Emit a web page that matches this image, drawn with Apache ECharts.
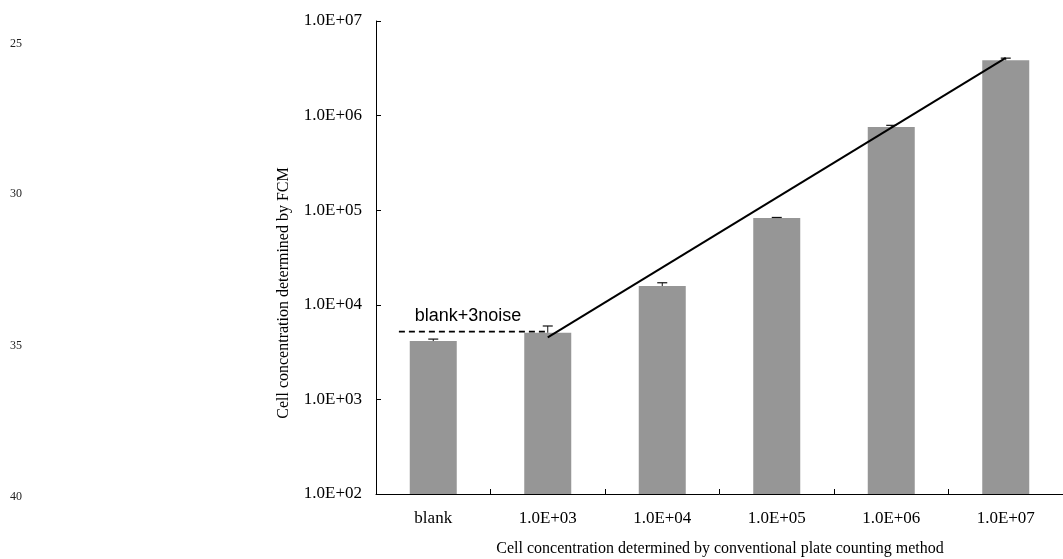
<!DOCTYPE html>
<html>
<head>
<meta charset="utf-8">
<script src="https://cdn.jsdelivr.net/npm/echarts@6/dist/echarts.min.js"></script>
<style>
  html, body { margin: 0; padding: 0; background: #ffffff; }
  #chart { width: 1063px; height: 559px; }
</style>
</head>
<body>
<div id="chart"></div>
<script>
// Plate-count categories on the x axis
const categories = ['blank', '1.0E+03', '1.0E+04', '1.0E+05', '1.0E+06', '1.0E+07'];
// FCM-measured concentrations (bar heights) and their upper error
const fcmValues = [4140, 5070, 15800, 82800, 759000, 3850000];
const fcmErrors = [200, 900, 1300, 1000, 30000, 200000];
// Decade tick labels on the log axis, 1e2 .. 1e7
const yTickLabels = ['1.0E+02', '1.0E+03', '1.0E+04', '1.0E+05', '1.0E+06', '1.0E+07'];
// Detection limit (blank + 3 noise) drawn as a dashed level
const noiseLevel = 5200;
const noiseSpan = [0.2, 1.5];           // along the category band scale (0..6)
// Linear fit endpoints, at the 1.0E+03 and 1.0E+07 band centres
const fitPoints = [[1.5, 4530], [5.5, 4070000]];
// Line numbers printed in the left margin
const marginNumbers = ['25', '30', '35', '40'];
const marginNumberY = [44, 194, 346, 497];

const serif = '"Liberation Serif", "Times New Roman", serif';
const sans = '"Liberation Sans", Arial, sans-serif';

const chart = echarts.init(document.getElementById('chart'), null, { renderer: 'canvas' });

const errorData = fcmValues.map((v, i) => [i, v, fcmErrors[i]]);

const graphics = marginNumbers.map((t, i) => ({
  type: 'text',
  x: 10,
  y: marginNumberY[i],
  style: { text: t, font: '12px ' + serif, fill: '#222', verticalAlign: 'middle' }
}));
graphics.push({
  type: 'text',
  x: 284, y: 293,
  rotation: Math.PI / 2,
  style: {
    text: 'Cell concentration determined by FCM',
    font: '16px ' + serif, fill: '#000',
    align: 'center', verticalAlign: 'middle'
  }
});
graphics.push({
  type: 'text',
  x: 720, y: 549,
  style: {
    text: 'Cell concentration determined by conventional plate counting method',
    font: '16px ' + serif, fill: '#000',
    align: 'center', verticalAlign: 'middle'
  }
});
// "blank+3noise" annotation sits just above the dashed level
graphics.push({
  type: 'text',
  x: 468, y: 316,
  style: {
    text: 'blank+3noise',
    font: '18px ' + sans, fill: '#000',
    align: 'center', verticalAlign: 'middle'
  }
});

chart.setOption({
  animation: false,
  backgroundColor: '#ffffff',
  grid: { left: 376, right: -7, top: 21, bottom: 65, containLabel: false },
  graphic: graphics,
  xAxis: [
    {
      type: 'category',
      data: categories,
      boundaryGap: true,
      axisLine: { lineStyle: { color: '#000', width: 1 } },
      axisTick: { show: true, inside: true, length: 5, alignWithLabel: false, lineStyle: { color: '#000' } },
      axisLabel: { color: '#000', fontFamily: serif, fontSize: 17, margin: 16 },
      splitLine: { show: false }
    },
    {
      type: 'value',
      min: 0, max: 6,
      show: false
    }
  ],
  yAxis: {
    type: 'log',
    logBase: 10,
    min: 100, max: 10000000,
    axisLine: { show: true, lineStyle: { color: '#000', width: 1 } },
    axisTick: { show: true, inside: true, length: 5, lineStyle: { color: '#000' } },
    minorTick: { show: false },
    splitLine: { show: false },
    axisLabel: {
      color: '#000', fontFamily: serif, fontSize: 17, margin: 14,
      formatter: v => yTickLabels[Math.round(Math.log10(v)) - 2] || ''
    }
  },
  series: [
    {
      type: 'bar',
      data: fcmValues,
      barWidth: 47,
      itemStyle: { color: '#969696' },
      z: 2
    },
    {
      type: 'custom',
      data: errorData,
      z: 3,
      renderItem: (params, api) => {
        const idx = api.value(0);
        const v = api.value(1);
        const e = api.value(2);
        const base = api.coord([idx, v]);
        const top = api.coord([idx, v + e]);
        const half = 5;
        return {
          type: 'group',
          children: [
            { type: 'line', shape: { x1: base[0], y1: base[1], x2: top[0], y2: top[1] }, style: { stroke: '#111', lineWidth: 1 } },
            { type: 'line', shape: { x1: top[0] - half, y1: top[1], x2: top[0] + half, y2: top[1] }, style: { stroke: '#111', lineWidth: 1.2 } }
          ]
        };
      }
    },
    {
      type: 'line',
      xAxisIndex: 1,
      data: [[noiseSpan[0], noiseLevel], [noiseSpan[1], noiseLevel]],
      symbol: 'none',
      clip: false,
      lineStyle: { color: '#000', width: 1.6, type: [6, 4] },
      z: 4
    },
    {
      type: 'line',
      xAxisIndex: 1,
      data: fitPoints,
      symbol: 'none',
      clip: false,
      lineStyle: { color: '#000', width: 2 },
      z: 5
    }
  ]
});
</script>
</body>
</html>
